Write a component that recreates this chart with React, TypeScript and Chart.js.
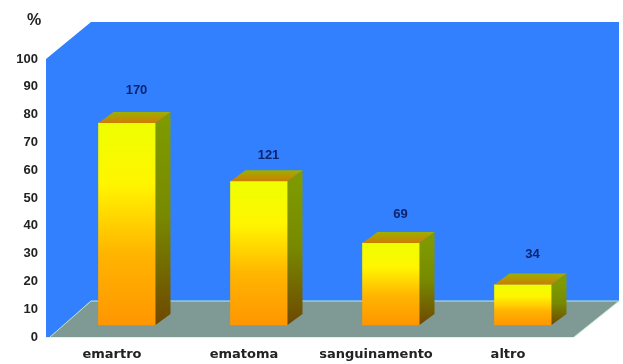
import { useEffect, useRef } from "react";
import { Chart, registerables } from "chart.js";

Chart.register(...registerables);

const categories = ["emartro", "ematoma", "sanguinamento", "altro"];
const cases = [170, 121, 69, 34];
const percentTicks = [0, 10, 20, 30, 40, 50, 60, 70, 80, 90, 100];
// Number of cases that corresponds to 100% on the vertical axis.
const caseTotal = 234;
const caseLabelLift = [22, 15, 18, 19];

const DEPTH_X = 45;
const DEPTH_Y = 36;
const BAR_SHIFT_X = 15;
const BAR_SHIFT_Y = 12;
const BAR_DEPTH_X = 15;
const BAR_DEPTH_Y = 11;

const box3d = {
  id: "box3d",
  // Back wall, left wall and floor of the box.
  beforeDatasetsDraw(chart: any) {
    const { ctx, chartArea: a } = chart;
    ctx.save();
    ctx.fillStyle = "#3380FF";
    ctx.beginPath();
    ctx.moveTo(a.left, a.top);
    ctx.lineTo(a.left + DEPTH_X, a.top - DEPTH_Y - 1);
    ctx.lineTo(a.right + DEPTH_X, a.top - DEPTH_Y - 1);
    ctx.lineTo(a.right + DEPTH_X, a.bottom - DEPTH_Y);
    ctx.lineTo(a.left + DEPTH_X, a.bottom - DEPTH_Y);
    ctx.lineTo(a.left + 5, a.bottom);
    ctx.lineTo(a.left, a.bottom);
    ctx.closePath();
    ctx.fill();

    ctx.fillStyle = "#7F9A94";
    ctx.beginPath();
    ctx.moveTo(a.left + 4, a.bottom);
    ctx.lineTo(a.left + DEPTH_X, a.bottom - DEPTH_Y);
    ctx.lineTo(a.right + DEPTH_X, a.bottom - DEPTH_Y);
    ctx.lineTo(a.right, a.bottom);
    ctx.closePath();
    ctx.fill();

    ctx.lineWidth = 1;
    ctx.strokeStyle = "#BFE6C4";
    ctx.beginPath();
    ctx.moveTo(a.left + 4, a.bottom);
    ctx.lineTo(a.left + DEPTH_X, a.bottom - DEPTH_Y);
    ctx.lineTo(a.right + DEPTH_X, a.bottom - DEPTH_Y);
    ctx.lineTo(a.right, a.bottom);
    ctx.stroke();
    ctx.strokeStyle = "#F4F79A";
    ctx.beginPath();
    ctx.moveTo(a.left, a.bottom + 0.5);
    ctx.lineTo(a.right, a.bottom + 0.5);
    ctx.stroke();
    ctx.restore();

    // Bars stand inside the box, a little behind the front edge.
    ctx.save();
    ctx.translate(BAR_SHIFT_X, -BAR_SHIFT_Y);
  },
  // Side and top faces of each bar, then the case counts above them.
  afterDatasetsDraw(chart: any) {
    const { ctx } = chart;
    const bars = chart.getDatasetMeta(0).data;
    bars.forEach((bar: any, i: number) => {
      const half = bar.width / 2;
      const l = bar.x - half;
      const r = bar.x + half;
      const t = bar.y;
      const b = bar.base;

      const side = ctx.createLinearGradient(0, t, 0, b);
      side.addColorStop(0, "#7E9A00");
      side.addColorStop(0.45, "#788A00");
      side.addColorStop(1, "#6E4800");
      ctx.fillStyle = side;
      ctx.beginPath();
      ctx.moveTo(r, t);
      ctx.lineTo(r + BAR_DEPTH_X, t - BAR_DEPTH_Y);
      ctx.lineTo(r + BAR_DEPTH_X, b - BAR_DEPTH_Y);
      ctx.lineTo(r, b);
      ctx.closePath();
      ctx.fill();

      const top = ctx.createLinearGradient(0, t, 0, t - BAR_DEPTH_Y);
      top.addColorStop(0, "#D07C00");
      top.addColorStop(1, "#9CB000");
      ctx.fillStyle = top;
      ctx.beginPath();
      ctx.moveTo(l, t);
      ctx.lineTo(l + BAR_DEPTH_X, t - BAR_DEPTH_Y);
      ctx.lineTo(r + BAR_DEPTH_X, t - BAR_DEPTH_Y);
      ctx.lineTo(r, t);
      ctx.closePath();
      ctx.fill();

      ctx.fillStyle = "#0A2470";
      ctx.font = 'bold 13px "Liberation Sans"';
      ctx.textAlign = "center";
      ctx.textBaseline = "middle";
      ctx.fillText(
        String(cases[i]),
        bar.x + BAR_DEPTH_X / 2 + 2,
        t - BAR_DEPTH_Y - caseLabelLift[i]
      );
    });
    ctx.restore();

    ctx.save();
    ctx.fillStyle = "#222";
    ctx.font = 'bold 16px "Liberation Sans"';
    ctx.textAlign = "center";
    ctx.textBaseline = "middle";
    ctx.fillText("%", 34, 21);
    ctx.restore();
  },
};

function barFill(c: any) {
  const { chart, parsed } = c;
  const y = chart.scales.y;
  const top = parsed && y ? y.getPixelForValue(parsed.y) : NaN;
  const bottom = y ? y.getPixelForValue(0) : NaN;
  // The scale has no pixel range yet on the first options pass.
  if (!Number.isFinite(top) || !Number.isFinite(bottom)) return "#FFFF00";
  const g = chart.ctx.createLinearGradient(0, top, 0, bottom);
  g.addColorStop(0, "#EEFF00");
  g.addColorStop(0.3, "#FFF500");
  g.addColorStop(0.65, "#FFB400");
  g.addColorStop(1, "#FF9600");
  return g;
}

export default function App() {
  const ref = useRef<HTMLCanvasElement>(null);
  useEffect(() => {
    const chart = new Chart(ref.current!, {
      type: "bar",
      data: {
        labels: categories,
        datasets: [
          {
            data: cases,
            backgroundColor: barFill,
            borderWidth: 0,
            barThickness: 57,
            clip: false,
          } as any,
        ],
      },
      plugins: [box3d],
      options: {
        animation: false,
        responsive: false,
        layout: { padding: { top: 59, right: 49, left: 0, bottom: 0 } },
        plugins: { legend: { display: false }, tooltip: { enabled: false } },
        scales: {
          x: {
            grid: { display: false },
            border: { display: false },
            afterFit: (s: any) => {
              s.height = 27;
            },
            ticks: {
              padding: 2,
              maxRotation: 0,
              autoSkip: false,
              color: "#222",
              font: { family: "DejaVu Sans", weight: "bold", size: 13 },
            },
          },
          y: {
            min: 0,
            max: caseTotal,
            grid: { display: false },
            border: { display: false },
            afterFit: (s: any) => {
              s.width = 46;
            },
            afterBuildTicks: (s: any) => {
              s.ticks = percentTicks.map((p) => ({
                value: (p / 100) * caseTotal,
              }));
            },
            ticks: {
              padding: 0,
              autoSkip: false,
              color: "#222",
              font: { family: "Liberation Sans", weight: "bold", size: 13 },
              callback: (v: any) => String(Math.round((v / caseTotal) * 100)),
            },
          },
        },
      } as any,
    });
    return () => chart.destroy();
  }, []);
  return (
    <div style={{ position: "fixed", left: 0, top: 0 }}>
      <canvas ref={ref} width={623} height={364} style={{ display: "block" }} />
    </div>
  );
}
